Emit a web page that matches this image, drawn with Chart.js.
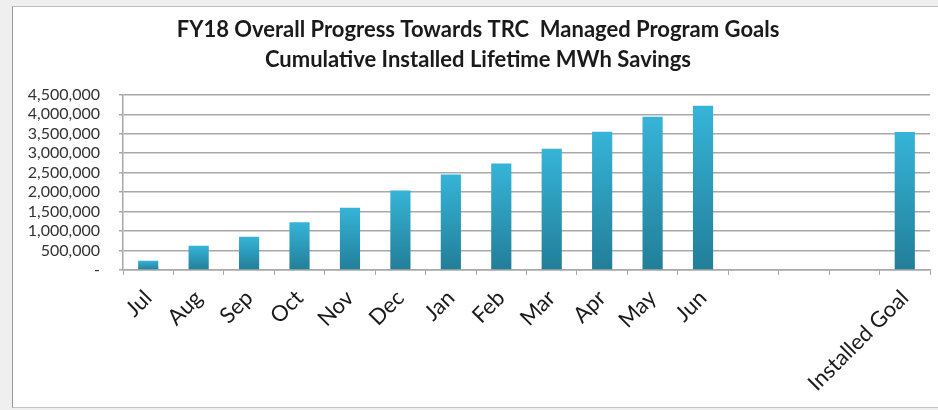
<!DOCTYPE html>
<html>
<head>
<meta charset="utf-8">
<script src="https://cdn.jsdelivr.net/npm/chart.js@4.4.1/dist/chart.umd.min.js"></script>
<style>
  html, body { margin: 0; padding: 0; width: 938px; height: 410px; overflow: hidden; background: #efefef; }
  #panel { position: absolute; left: 12px; top: 6px; width: 926px; height: 402px; background: #ffffff;
           border-left: 1px solid #9a9a9a; border-top: 1px solid #bdbdbd; border-bottom: 1px solid #c4c4c4; box-sizing: border-box; }
  #wrap { position: absolute; left: 0; top: 0; width: 938px; height: 410px; }
</style>
</head>
<body>
<div id="panel"></div>
<div id="wrap"><canvas id="c" width="938" height="410"></canvas></div>
<script>
const titleLines = ['FY18 Overall Progress Towards TRC  Managed Program Goals', 'Cumulative Installed Lifetime MWh Savings'];
const categories = ['Jul','Aug','Sep','Oct','Nov','Dec','Jan','Feb','Mar','Apr','May','Jun','','','','Installed Goal'];
const savings = [240000, 624000, 855000, 1224000, 1600000, 2045000, 2456000, 2738000, 3115000, 3551000, 3936000, 4219000, null, null, null, 3543000];
const yMin = 0;
const yMax = 4500000;
const yStep = 500000;

const gridColor = '#a8a8a8';

new Chart(document.getElementById('c'), {
  type: 'bar',
  data: {
    labels: categories,
    datasets: [{
      data: savings,
      categoryPercentage: 0.8,
      barPercentage: 0.5,
      borderWidth: 0,
      backgroundColor: (ctx) => {
        const chart = ctx.chart;
        const { chartArea, scales } = chart;
        if (!chartArea || ctx.raw == null || !scales.y) return 'rgb(48,160,196)';
        const top = scales.y.getPixelForValue(ctx.raw);
        const bottom = scales.y.getPixelForValue(0);
        if (!isFinite(top) || !isFinite(bottom) || top === bottom) return 'rgb(48,160,196)';
        const g = chart.ctx.createLinearGradient(0, top, 0, bottom);
        g.addColorStop(0, 'rgb(54,180,216)');
        g.addColorStop(1, 'rgb(34,126,152)');
        return g;
      }
    }]
  },
  options: {
    responsive: false,
    animation: false,
    devicePixelRatio: 1,
    layout: { padding: { left: 26, right: 8, top: 0, bottom: 0 } },
    plugins: {
      legend: { display: false },
      tooltip: { enabled: false },
      title: {
        display: true,
        text: titleLines,
        color: '#1a1a1a',
        font: { family: 'Lato', size: 22, weight: 'bold', lineHeight: 1.36 },
        padding: { top: 15, bottom: 20 }
      }
    },
    scales: {
      x: {
        afterFit: (s) => { s.height = 140; },
        grid: { display: true, drawOnChartArea: false, drawTicks: true, tickLength: 5, color: gridColor, offset: true },
        border: { display: true, color: gridColor, width: 1.5 },
        ticks: {
          autoSkip: false,
          maxRotation: 45,
          minRotation: 45,
          padding: 10,
          color: '#1a1a1a',
          font: { family: 'Lato', size: 22 }
        }
      },
      y: {
        min: yMin,
        max: yMax,
        afterFit: (s) => { s.width = 97; },
        grid: { color: gridColor, lineWidth: 1.5, tickLength: 4, drawTicks: true },
        border: { display: true, color: gridColor, width: 1.5 },
        ticks: {
          autoSkip: false,
          stepSize: yStep,
          padding: 19,
          color: '#333333',
          font: { family: 'Lato', size: 16 },
          callback: (v) => v === 0 ? '-' : Number(v).toLocaleString('en-US')
        }
      }
    }
  }
});
</script>
</body>
</html>
